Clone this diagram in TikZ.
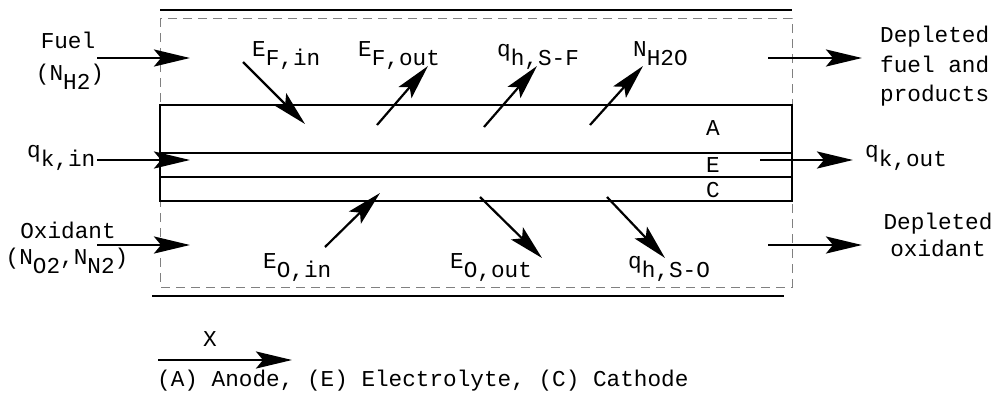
\documentclass[tikz,border=0pt]{standalone}
\usepackage{fontspec}
\setmonofont{Liberation Mono}
\usetikzlibrary{arrows.meta}
\newcommand{\sbs}[1]{\raisebox{-0.43em}{#1}}
\begin{document}
\begin{tikzpicture}[x=1pt,y=-1pt,
  txt/.style={inner sep=0pt,font=\fontsize{22.7}{26}\ttfamily},
  wall/.style={line width=2.8pt},
  flow/.style={line width=2.8pt,-{Stealth[length=36pt,width=17pt,inset=7pt]}},
  dflow/.style={line width=2.2pt,-{Stealth[length=35pt,width=17pt,inset=7pt]}},
  bound/.style={gray,line width=1pt,dash pattern=on 9pt off 6pt}]
\useasboundingbox (0,0) rectangle (996,400);
% walls and boundary
\coordinate (tw1) at (160,10); \coordinate (tw2) at (792,10);
\coordinate (bw1) at (152,296); \coordinate (bw2) at (784,296);
\draw[wall] (tw1) -- (tw2);
\draw[wall] (bw1) -- (bw2);
\draw[bound] (160,18) rectangle (792,287);
% cell layers
\draw[wall] (160,105) rectangle (792,201);
\draw[wall] (160,153) -- (792,153);
\draw[wall] (160,177) -- (792,177);
\node[txt,anchor=base] (la) at (713,135) {A};
\node[txt,anchor=base] (le) at (713,172) {E};
\node[txt,anchor=base] (lc) at (713,197) {C};
% left labels
\node[txt,anchor=base] (fuel) at (68,48) {Fuel};
\node[txt,anchor=base] (nh2) at (70,80) {(N\sbs{H2})};
\node[txt,anchor=base west] (qkin) at (27,157) {q\sbs{k,in}};
\node[txt,anchor=base] (oxid) at (68,238) {Oxidant};
\node[txt,anchor=base] (no2) at (67,264) {(N\sbs{O2},N\sbs{N2})};
% inner labels
\node[txt,anchor=base west] (efin) at (252,56) {E\sbs{F,in}};
\node[txt,anchor=base west] (efout) at (358,56) {E\sbs{F,out}};
\node[txt,anchor=base west] (qhsf) at (497,56) {q\sbs{h,S-F}};
\node[txt,anchor=base west] (nh2o) at (633,56) {N\sbs{H2O}};
\node[txt,anchor=base west] (eoin) at (263,268) {E\sbs{O,in}};
\node[txt,anchor=base west] (eoout) at (450,268) {E\sbs{O,out}};
\node[txt,anchor=base west] (qhso) at (628,268) {q\sbs{h,S-O}};
% right labels
\node[txt,anchor=base west] (dep1) at (880,42) {Depleted};
\node[txt,anchor=base west] (dep2) at (880,72) {fuel and};
\node[txt,anchor=base west] (dep3) at (880,101) {products};
\node[txt,anchor=base west] (qkout) at (865,157) {q\sbs{k,out}};
\node[txt,anchor=base] (dox1) at (938,229) {Depleted};
\node[txt,anchor=base] (dox2) at (938,256) {oxidant};
% axis and legend
\node[txt,anchor=base] (xl) at (210,346) {X};
\node[txt,anchor=base west] (legend) at (157,386) {(A) Anode, (E) Electrolyte, (C) Cathode};
% arrow coordinates
\coordinate (f1) at (97,58);  \coordinate (f2) at (190,58);
\coordinate (k1) at (97,160); \coordinate (k2) at (190,160);
\coordinate (o1) at (97,245); \coordinate (o2) at (190,245);
\coordinate (df1) at (768,58);  \coordinate (df2) at (862,58);
\coordinate (ko1) at (760,160); \coordinate (ko2) at (853,160);
\coordinate (do1) at (768,245); \coordinate (do2) at (862,245);
\coordinate (a1) at (243,62);  \coordinate (a2) at (305,124);
\coordinate (b1) at (377,125); \coordinate (b2) at (428,66);
\coordinate (c1) at (484,127); \coordinate (c2) at (537,66);
\coordinate (d1) at (590,125); \coordinate (d2) at (643,66);
\coordinate (e1) at (325,247); \coordinate (e2) at (380,193);
\coordinate (g1) at (480,197); \coordinate (g2) at (542,258);
\coordinate (h1) at (607,197); \coordinate (h2) at (665,258);
\coordinate (x1) at (158,360); \coordinate (x2) at (292,360);
\foreach \s/\t in {f1/f2,k1/k2,o1/o2,df1/df2,ko1/ko2,do1/do2,x1/x2}
  \draw[flow] (\s) -- (\t);
\foreach \s/\t in {a1/a2,b1/b2,c1/c2,d1/d2,e1/e2,g1/g2,h1/h2}
  \draw[dflow] (\s) -- (\t);
\end{tikzpicture}
\end{document}
